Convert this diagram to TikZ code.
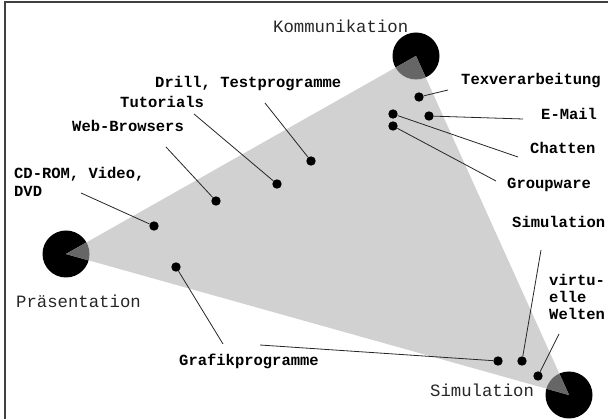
\documentclass[tikz,border=0pt]{standalone}
\usepackage{fontspec}
\setmonofont{Liberation Mono}
\begin{document}
\begin{tikzpicture}[x=1pt,y=-1pt,
  pole/.style={circle, fill=black, minimum size=47pt, inner sep=0pt},
  dot/.style={circle, fill=black, minimum size=9.4pt, inner sep=0pt},
  lbl/.style={font=\ttfamily\bfseries\fontsize{15.5}{17.5}\selectfont, inner sep=0pt, anchor=base west},
  pname/.style={font=\ttfamily\fontsize{17.3}{20}\selectfont, text=black!85, inner sep=0pt, anchor=base west},
  leader/.style={draw=black!85, line width=0.8pt},
  area/.style={fill=black!18},
  wedge/.style={fill=black!60}]

\useasboundingbox (0,0) rectangle (608,419);

% frame
\draw[black!75, line width=1.5pt] (5,419) -- (5,2) -- (608,2);

% the three poles
\node[pole] (praes) at (66,254) {};
\node[pole] (komm) at (416,56) {};
\node[pole] (simu) at (569,395) {};

% triangle spanned by the poles
\fill[area] (praes.center) -- (komm.center) -- (simu.center) -- cycle;

% darker part of the triangle inside each pole
\foreach \p in {praes, komm, simu} {
  \begin{scope}
    \clip (\p.center) circle[radius=23.5];
    \fill[wedge] (praes.center) -- (komm.center) -- (simu.center) -- cycle;
  \end{scope}
}

% pole names
\node[pname] (tkomm) at (273,33) {Kommunikation};
\node[pname] (tpraes) at (16,308) {Präsentation};
\node[pname] (tsimu) at (430,397) {Simulation};

% applications
\node[dot] (texv) at (419,97) {};
\node[dot] (email) at (429,116) {};
\node[dot] (chat) at (393,114) {};
\node[dot] (group) at (393,126) {};
\node[dot] (drill) at (311,161) {};
\node[dot] (tut) at (277,184) {};
\node[dot] (web) at (216,201) {};
\node[dot] (cd) at (154,226) {};
\node[dot] (graf1) at (176,267) {};
\node[dot] (graf2) at (498,361) {};
\node[dot] (sim) at (522,361) {};
\node[dot] (virt) at (538,376) {};

% free ends of the leader lines
\coordinate (ctexv) at (448,90);
\coordinate (cemail) at (523,119);
\coordinate (cchat) at (518,157);
\coordinate (cgroup) at (496,181);
\coordinate (cdrill) at (265,103);
\coordinate (ctut) at (194,114);
\coordinate (cweb) at (166,147);
\coordinate (ccd) at (81,193);
\coordinate (cgraf1) at (223,344);
\coordinate (cgraf2) at (260,345);
\coordinate (csim) at (541,250);
\coordinate (cvirt) at (559,334);

\draw[leader] (texv) -- (ctexv);
\draw[leader] (email) -- (cemail);
\draw[leader] (chat) -- (cchat);
\draw[leader] (group) -- (cgroup);
\draw[leader] (drill) -- (cdrill);
\draw[leader] (tut) -- (ctut);
\draw[leader] (web) -- (cweb);
\draw[leader] (cd) -- (ccd);
\draw[leader] (graf1) -- (cgraf1);
\draw[leader] (graf2) -- (cgraf2);
\draw[leader] (sim) -- (csim);
\draw[leader] (virt) -- (cvirt);

% labels
\node[lbl] (ltexv) at (461,85) {Texverarbeitung};
\node[lbl] (lemail) at (541,120) {E-Mail};
\node[lbl] (lchat) at (530,154) {Chatten};
\node[lbl] (lgroup) at (507,189) {Groupware};
\node[lbl] (ldrill) at (155,88) {Drill, Testprogramme};
\node[lbl] (ltut) at (120,108) {Tutorials};
\node[lbl] (lweb) at (72,132) {Web-Browsers};
\node[lbl] (lcda) at (14,179) {CD-ROM, Video,};
\node[lbl] (lcdb) at (14,197) {DVD};
\node[lbl] (lgraf) at (179,366) {Grafikprogramme};
\node[lbl] (lsim) at (512,228) {Simulation};
\node[lbl] (lvirta) at (549,286) {virtu-};
\node[lbl] (lvirtb) at (549,303) {elle};
\node[lbl] (lvirtc) at (549,320) {Welten};
\end{tikzpicture}
\end{document}
